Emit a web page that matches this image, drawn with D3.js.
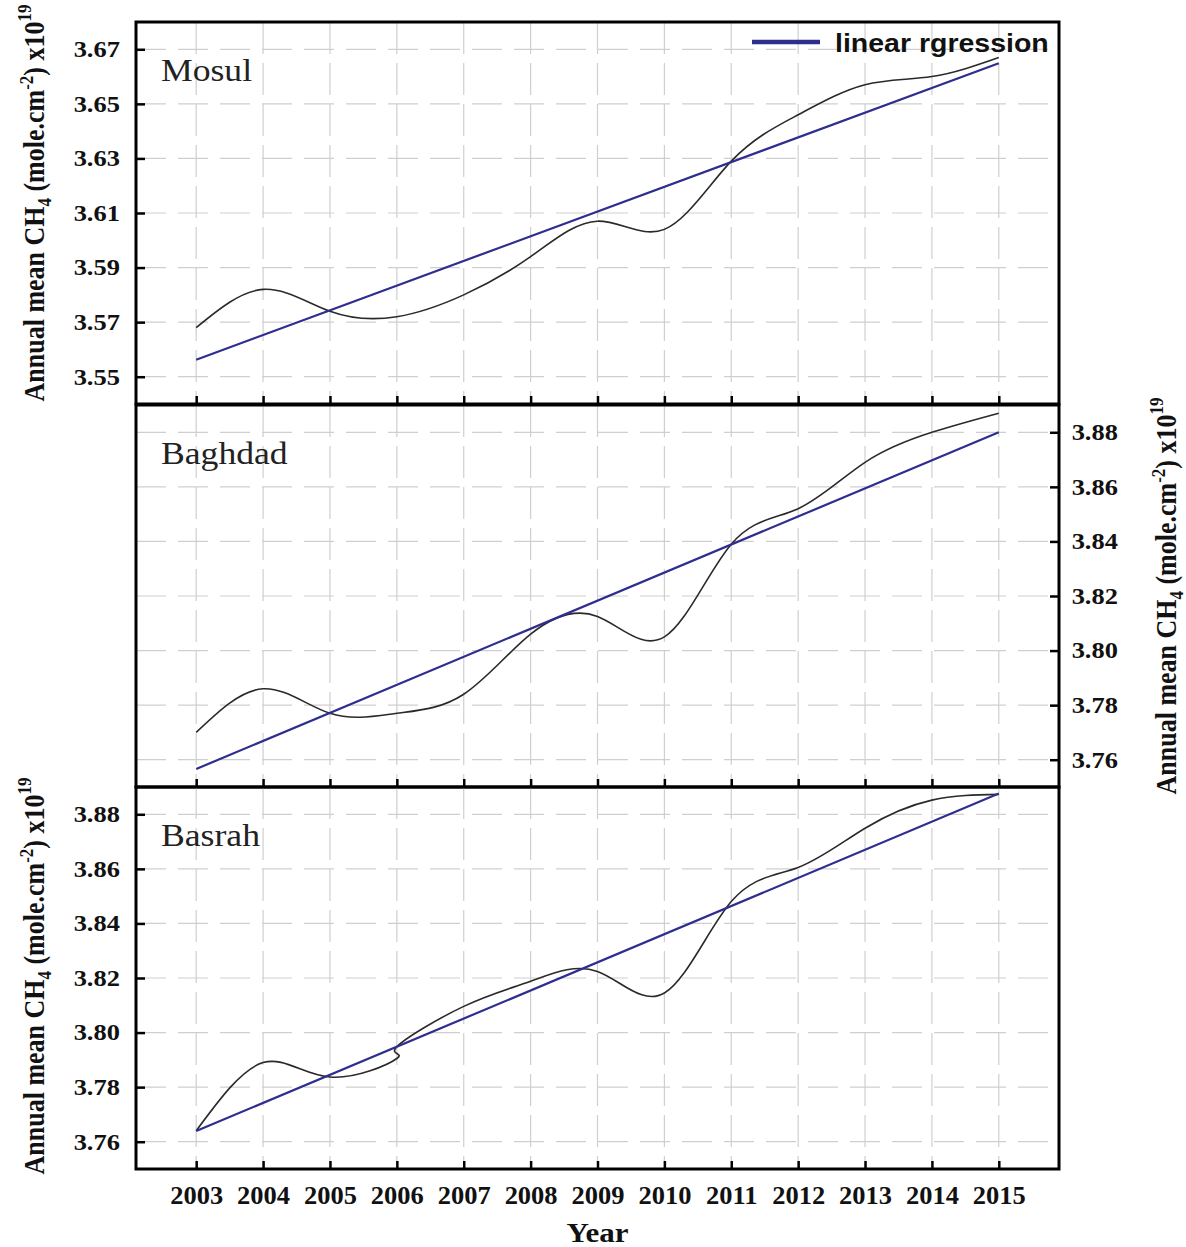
<!DOCTYPE html>
<html>
<head>
<meta charset="utf-8">
<script src="https://cdn.jsdelivr.net/npm/d3@7/dist/d3.min.js"></script>
<style>
  body { margin: 0; background: #fff; }
  svg { display: block; }
</style>
</head>
<body>
<svg id="chart"></svg>
<script>
// annual mean CH4 (x10^19 mole.cm-2)
const years = [2003, 2004, 2005, 2006, 2007, 2008, 2009, 2010, 2011, 2012, 2013, 2014, 2015];
const mosul = [3.568, 3.582, 3.574, 3.572, 3.580, 3.594, 3.607, 3.604, 3.629, 3.646, 3.657, 3.660, 3.667];
const baghdad = [3.770, 3.786, 3.777, 3.777, 3.784, 3.806, 3.8125, 3.805, 3.839, 3.852, 3.869, 3.880, 3.887];
// Basrah has two readings for 2006 (that is what gives the little hook)
const basrahYears = [2003, 2004, 2005, 2006, 2006, 2007, 2008, 2009, 2010, 2011, 2012, 2013, 2014, 2015];
const basrah = [3.764, 3.789, 3.7837, 3.7905, 3.7948, 3.8096, 3.8188, 3.8224, 3.8145, 3.848, 3.8605, 3.8749, 3.8852, 3.8873];

// linear regression end points
const fitYears = [2003, 2015];
const mosulFit = [3.5562, 3.6649];
const baghdadFit = [3.7566, 3.8800];
const basrahFit = [3.7639, 3.8876];

const mosulTicks = [3.55, 3.57, 3.59, 3.61, 3.63, 3.65, 3.67];
const southTicks = [3.76, 3.78, 3.80, 3.82, 3.84, 3.86, 3.88];
const mosulDomain = [3.540, 3.680];
const southDomain = [3.750, 3.890];

const cities = ["Mosul", "Baghdad", "Basrah"];
const legendLabel = "linear rgression";

const panels = [
  { name: cities[0], xs: years, ys: mosul, fit: mosulFit, ticks: mosulTicks, domain: mosulDomain, side: "left" },
  { name: cities[1], xs: years, ys: baghdad, fit: baghdadFit, ticks: southTicks, domain: southDomain, side: "right" },
  { name: cities[2], xs: basrahYears, ys: basrah, fit: basrahFit, ticks: southTicks, domain: southDomain, side: "left" }
];

const W = 1186, H = 1247;
const left = 136, right = 1059;
const tops = [22, 405, 787], panelH = 382;
const titleShift = [-10, 0, -2];
const serif = "'Liberation Serif', 'Times New Roman', serif";
const sans = "'Liberation Sans', Arial, sans-serif";
const blue = "#2e2e8e";
const stretch = 1.15;

const svg = d3.select("#chart").attr("width", W).attr("height", H);

const x = d3.scaleLinear().domain([2002.1, 2015.9]).range([left, right]);

panels.forEach((p, i) => {
  const top = tops[i], bottom = top + panelH;
  const y = d3.scaleLinear().domain(p.domain).range([bottom, top]);
  const g = svg.append("g");

  // grid
  g.selectAll(".hg").data(p.ticks).join("line")
    .attr("x1", left).attr("x2", right)
    .attr("y1", d => y(d)).attr("y2", d => y(d))
    .attr("stroke", "#cfcfcf").attr("stroke-width", 1.2)
    .attr("stroke-dasharray", "30,12");
  g.selectAll(".vg").data(years).join("line")
    .attr("x1", d => x(d)).attr("x2", d => x(d))
    .attr("y1", top).attr("y2", bottom)
    .attr("stroke", "#cfcfcf").attr("stroke-width", 1.2)
    .attr("stroke-dasharray", "32,9");

  // data curve
  const pts = p.xs.map((yr, k) => [yr, p.ys[k]]);
  g.append("path").datum(pts)
    .attr("fill", "none").attr("stroke", "#2a2a2a").attr("stroke-width", 1.6)
    .attr("d", d3.line().x(d => x(d[0])).y(d => y(d[1])).curve(d3.curveNatural));

  // regression
  g.append("path").datum(fitYears.map((yr, k) => [yr, p.fit[k]]))
    .attr("fill", "none").attr("stroke", blue).attr("stroke-width", 2.2)
    .attr("d", d3.line().x(d => x(d[0])).y(d => y(d[1])));

  // x axis (inward ticks), labels on last panel only
  const xa = d3.axisBottom(x).tickValues(years).tickSize(-8)
    .tickPadding(17).tickFormat(i === 2 ? d3.format("d") : () => "");
  const gx = g.append("g").attr("transform", `translate(0,${bottom})`).call(xa);
  gx.select(".domain").remove();
  gx.selectAll(".tick line").attr("stroke", "#000").attr("stroke-width", 2.5);
  gx.selectAll("text").attr("font-family", serif).attr("font-weight", "bold")
    .attr("font-size", 25).attr("fill", "#111")
    .attr("transform", "scale(1.06,1)");

  // y axis
  let ya, ax;
  if (p.side === "left") {
    ya = d3.axisLeft(y).tickValues(p.ticks).tickSize(-9).tickPadding(14).tickFormat(d3.format(".2f"));
    ax = left;
  } else {
    ya = d3.axisRight(y).tickValues(p.ticks).tickSize(-9).tickPadding(11).tickFormat(d3.format(".2f"));
    ax = right;
  }
  const gy = g.append("g").attr("transform", `translate(${ax},0)`).call(ya);
  gy.select(".domain").remove();
  gy.selectAll(".tick line").attr("stroke", "#000").attr("stroke-width", 2.5);
  gy.selectAll("text").attr("font-family", serif).attr("font-weight", "bold")
    .attr("font-size", 23).attr("fill", "#111")
    .attr("transform", `scale(${stretch},1)`);

  // frame
  g.append("rect").attr("x", left).attr("y", top)
    .attr("width", right - left).attr("height", panelH)
    .attr("fill", "none").attr("stroke", "#000").attr("stroke-width", 3);

  // city name
  g.append("text")
    .attr("transform", `translate(${left + 25},${top + 59}) scale(${stretch},1)`)
    .attr("font-family", serif).attr("font-size", 31).attr("fill", "#222")
    .text(p.name);

  // axis title
  const tx = p.side === "left" ? 44 : 1176;
  const t = g.append("text")
    .attr("transform", `translate(${tx},${top + panelH / 2 + titleShift[i]}) rotate(-90) scale(1,${stretch})`)
    .attr("text-anchor", "middle")
    .attr("font-family", serif).attr("font-weight", "bold").attr("font-size", 26).attr("fill", "#111");
  t.append("tspan").text("Annual mean CH");
  t.append("tspan").attr("font-size", 17).attr("dy", 6).text("4");
  t.append("tspan").attr("dy", -6).text(" (mole.cm");
  t.append("tspan").attr("font-size", 17).attr("dy", -10).text("-2");
  t.append("tspan").attr("dy", 10).text(") x10");
  t.append("tspan").attr("font-size", 17).attr("dy", -11).text("19");
});

// legend
svg.append("line").attr("x1", 752).attr("x2", 820).attr("y1", 42).attr("y2", 42)
  .attr("stroke", blue).attr("stroke-width", 4.5);
svg.append("text")
  .attr("transform", `translate(835,52) scale(1.14,1)`)
  .attr("font-family", sans).attr("font-weight", "bold").attr("font-size", 25).attr("fill", "#111")
  .text(legendLabel);

// x title
svg.append("text")
  .attr("transform", `translate(${(x(2003) + x(2015)) / 2},1242) scale(${stretch},1)`)
  .attr("text-anchor", "middle")
  .attr("font-family", serif).attr("font-weight", "bold").attr("font-size", 27).attr("fill", "#111")
  .text("Year");
</script>
</body>
</html>
